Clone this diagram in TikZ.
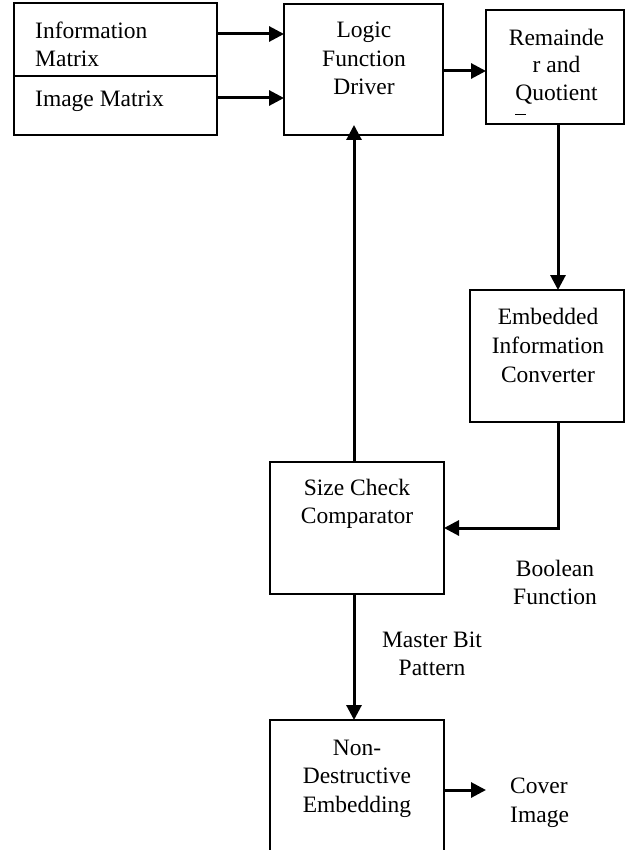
\documentclass[tikz,border=0pt]{standalone}
\usepackage{fontspec}
\setmainfont{Liberation Serif}
\usetikzlibrary{arrows.meta}
\tikzset{
  box/.style={draw, line width=1.8pt, inner sep=0pt, outer sep=0pt},
  txt/.style={anchor=base, inner sep=0pt, font=\fontsize{23.5}{29}\selectfont},
  ltxt/.style={txt, anchor=base west},
  arr/.style={line width=3pt, -{Triangle[length=15pt,width=15pt]}},
}
\begin{document}
\begin{tikzpicture}[x=1pt,y=-1pt]
\useasboundingbox (0,0) rectangle (626,850);
\clip (0,0) rectangle (626,850);
% boxes
\node[box, minimum width=203pt, minimum height=73pt] (info) at (115.5,39.5) {};
\node[box, minimum width=203pt, minimum height=59pt] (img) at (115.5,105.5) {};
\node[box, minimum width=159pt, minimum height=131pt] (logic) at (363.5,69.5) {};
\node[box, minimum width=138pt, minimum height=114pt] (rem) at (555,67) {};
\node[box, minimum width=154pt, minimum height=132pt] (emb) at (547,356) {};
\node[box, minimum width=174pt, minimum height=132pt] (size) at (357,528) {};
\node[box, minimum width=174pt, minimum height=160pt] (nondes) at (357,800) {};
% texts
\node[ltxt] (t1) at (35,39) {Information};
\node[ltxt] (t2) at (35,67) {Matrix};
\node[ltxt] (t3) at (35,107) {Image Matrix};
\node[txt] (t4) at (364,38) {Logic};
\node[txt] (t5) at (364,67) {Function};
\node[txt] (t6) at (364,95) {Driver};
\node[txt] (t7) at (556.5,46) {Remainde};
\node[txt] (t8) at (556.5,73) {r and};
\node[txt] (t9) at (556.5,101) {Quotient};
\draw[line width=1pt] (515,115) coordinate (d1) -- (526,115) coordinate (d2);
\node[txt] (t10) at (548,324) {Embedded};
\node[txt] (t11) at (548,353) {Information};
\node[txt] (t12) at (548,382) {Converter};
\node[txt] (t13) at (357,495) {Size Check};
\node[txt] (t14) at (357,523) {Comparator};
\node[txt] (t15) at (357,755) {Non-};
\node[txt] (t16) at (357,783) {Destructive};
\node[txt] (t17) at (357,812) {Embedding};
\node[txt] (t18) at (555,576) {Boolean};
\node[txt] (t19) at (555,604) {Function};
\node[txt] (t20) at (432,647) {Master Bit};
\node[txt] (t21) at (432,675) {Pattern};
\node[ltxt] (t22) at (510,793) {Cover};
\node[ltxt] (t23) at (510,822) {Image};
% connector helper coordinates
\coordinate (y1) at (0,34);
\coordinate (y2) at (0,98);
\coordinate (y3) at (0,71);
\coordinate (x1) at (558,0);
\coordinate (bend) at (558,528);
\coordinate (x2) at (354,0);
\coordinate (tipup) at (354,125);
\coordinate (y4) at (0,790);
\coordinate (coverpt) at (486,790);
% connectors
\draw[arr] (info.east |- y1) -- (logic.west |- y1);
\draw[arr] (img.east |- y2) -- (logic.west |- y2);
\draw[arr] (logic.east |- y3) -- (rem.west |- y3);
\draw[arr] (rem.south -| x1) -- (emb.north -| x1);
\draw[arr] (emb.south -| x1) -- (bend) -- (size.east |- bend);
\draw[arr] (size.north -| x2) -- (tipup);
\draw[arr] (size.south -| x2) -- (nondes.north -| x2);
\draw[arr] (nondes.east |- y4) -- (coverpt);
\end{tikzpicture}
\end{document}
